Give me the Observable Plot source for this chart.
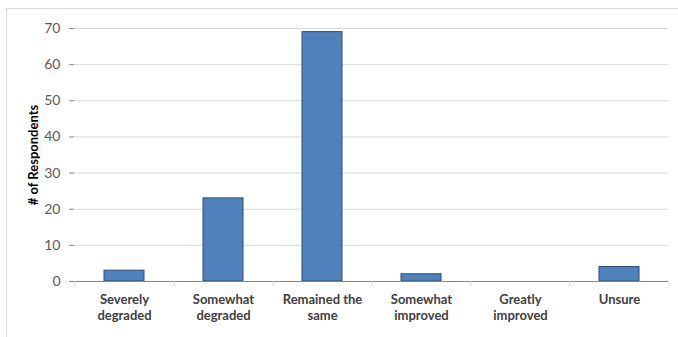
<!DOCTYPE html>
<html>
<head>
<meta charset="utf-8">
<script src="https://cdn.jsdelivr.net/npm/d3@7"></script>
<script src="https://cdn.jsdelivr.net/npm/@observablehq/plot@0.6"></script>
<style>
  html, body { margin: 0; padding: 0; background: #fff; }
  #wrap { position: relative; width: 678px; height: 337px; overflow: hidden; }
  #frame { position: absolute; left: 6px; top: 8px; width: 700px; height: 400px; border: 1px solid #d9d9d9; box-sizing: border-box; }
  #chart { position: absolute; left: 0; top: 0; }
</style>
</head>
<body>
<div id="wrap"><div id="frame"></div><div id="chart"></div></div>
<script>
const categories = ["Severely\ndegraded", "Somewhat\ndegraded", "Remained the\nsame", "Somewhat\nimproved", "Greatly\nimproved", "Unsure"];
const respondents = [3, 23, 69, 2, 0, 4];
const yTicks = [0, 10, 20, 30, 40, 50, 60, 70];
const yTitle = "# of Respondents";

const data = categories.map((c, i) => ({category: c, value: respondents[i]}));

const W = 678, H = 337, ML = 74, MR = 10, MT = 28, MB = 56;
const half = (W - ML - MR) / categories.length / 2;

const chart = Plot.plot({
  width: W,
  height: H,
  marginLeft: ML,
  marginRight: MR,
  marginTop: MT,
  marginBottom: MB,
  style: {fontFamily: "Lato, 'Open Sans', sans-serif", background: "transparent", overflow: "visible"},
  x: {domain: categories, paddingInner: 0.6, paddingOuter: 0.3, label: null},
  y: {domain: [0, 70], label: null},
  marks: [
    Plot.gridY(yTicks, {stroke: "#d9d9d9", strokeOpacity: 1, strokeWidth: 1}),
    Plot.axisY({ticks: yTicks, tickSize: 5, tickPadding: 9, fontSize: 14, color: "#595959", stroke: "#868686", label: null}),
    Plot.barY(data, {x: "category", y: "value", fill: "#4f81bd", stroke: "#2f4b6e", strokeWidth: 1}),
    Plot.ruleY([0], {stroke: "#868686"}),
    Plot.ruleX([0], {x: () => 0, frameAnchor: "left", stroke: "#868686"}),
    Plot.ruleX(categories, {x: d => d, dx: -half, y1: 0, y2: 0, insetBottom: -5, stroke: "#d9d9d9"}),
    Plot.ruleX([categories[categories.length - 1]], {x: d => d, dx: half, y1: 0, y2: 0, insetBottom: -5, stroke: "#d9d9d9"}),
    Plot.axisX({tickSize: 0, tickPadding: 11, fontSize: 13, fontWeight: "bold", color: "#404040", lineHeight: 1.23, label: null}),
    Plot.text([yTitle], {frameAnchor: "left", textAnchor: "middle", dx: -41, rotate: -90, fontSize: 13, fontWeight: "bold", fill: "#000", text: d => d})
  ]
});
document.getElementById("chart").appendChild(chart);
</script>
</body>
</html>
